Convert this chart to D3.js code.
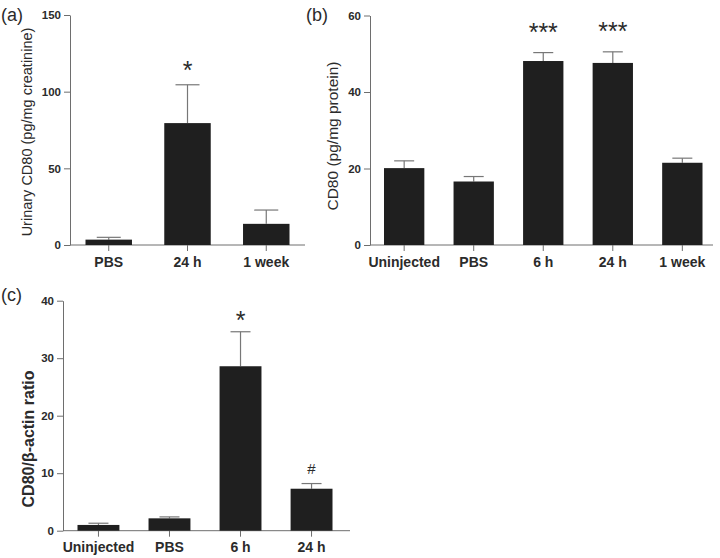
<!DOCTYPE html>
<html>
<head>
<meta charset="utf-8">
<script src="https://cdn.jsdelivr.net/npm/d3@7"></script>
<style>
  body { margin: 0; background: #fff; }
  text { font-family: "Liberation Sans", Arial, sans-serif; fill: #2b2b2b; }
</style>
</head>
<body>
<script>
// panel (a) - urinary CD80
var catsA = ["PBS", "24 h", "1 week"];
var meanA = [3.5, 79.5, 13.8];
var errA = [5.0, 104.5, 22.8];
var marksA = ["", "*", ""];
var ticksA = [0, 50, 100, 150];

// panel (b) - CD80 protein
var catsB = ["Uninjected", "PBS", "6 h", "24 h", "1 week"];
var meanB = [20.1, 16.6, 48.1, 47.6, 21.5];
var errB = [22.0, 17.9, 50.3, 50.5, 22.7];
var marksB = ["", "", "***", "***", ""];
var ticksB = [0, 20, 40, 60];

// panel (c) - CD80 / beta-actin
var catsC = ["Uninjected", "PBS", "6 h", "24 h"];
var meanC = [1.0, 2.15, 28.6, 7.3];
var errC = [1.3, 2.4, 34.6, 8.2];
var marksC = ["", "", "*", "#"];
var ticksC = [0, 10, 20, 30, 40];

var svg = d3.select("body").append("svg")
  .attr("width", 720)
  .attr("height", 558);

var axisColor = "#6e6e6e";

function panel(opt) {
  var g = svg.append("g");

  var y = d3.scaleLinear().domain([0, opt.ymax]).range([opt.y0, opt.y1]);
  var x = d3.scaleBand().domain(opt.cats)
    .range([opt.x0 + opt.pad, opt.x1 - opt.padR]).paddingInner(opt.inner).paddingOuter(0);

  // y axis
  var ya = g.append("g")
    .attr("transform", "translate(" + opt.x0 + ",0)")
    .call(d3.axisLeft(y).tickValues(opt.ticks).tickSize(6).tickSizeOuter(0));
  ya.select(".domain").attr("stroke", axisColor);
  ya.selectAll(".tick line").attr("stroke", axisColor);
  ya.selectAll(".tick text").attr("font-size", 11.5).attr("font-weight", "bold")
    .attr("fill", "#2b2b2b").attr("x", -9);

  // x axis
  var xa = g.append("g")
    .attr("transform", "translate(0," + opt.y0 + ")");
  xa.append("line")
    .attr("x1", opt.x0).attr("x2", opt.x1)
    .attr("stroke", axisColor);
  xa.selectAll(".xt").data(opt.cats).enter().append("line")
    .attr("x1", function(d) { return x(d) + x.bandwidth() / 2; })
    .attr("x2", function(d) { return x(d) + x.bandwidth() / 2; })
    .attr("y1", 0).attr("y2", 6)
    .attr("stroke", axisColor);
  xa.selectAll(".xl").data(opt.cats).enter().append("text")
    .attr("x", function(d) { return x(d) + x.bandwidth() / 2; })
    .attr("y", 21.5)
    .attr("text-anchor", "middle")
    .attr("font-size", 14)
    .attr("font-weight", "bold")
    .text(function(d) { return d; });

  // error bars
  var eb = g.selectAll(".err").data(opt.cats).enter().append("g");
  eb.append("line")
    .attr("x1", function(d) { return x(d) + x.bandwidth() / 2; })
    .attr("x2", function(d) { return x(d) + x.bandwidth() / 2; })
    .attr("y1", function(d, i) { return y(opt.mean[i]); })
    .attr("y2", function(d, i) { return y(opt.err[i]); })
    .attr("stroke", "#777").attr("stroke-width", 1.2);
  eb.append("line")
    .attr("x1", function(d) { return x(d) + x.bandwidth() / 2 - opt.cap; })
    .attr("x2", function(d) { return x(d) + x.bandwidth() / 2 + opt.cap; })
    .attr("y1", function(d, i) { return y(opt.err[i]); })
    .attr("y2", function(d, i) { return y(opt.err[i]); })
    .attr("stroke", "#777").attr("stroke-width", 1.2);

  // bars
  g.selectAll(".bar").data(opt.cats).enter().append("rect")
    .attr("x", function(d) { return x(d); })
    .attr("width", x.bandwidth())
    .attr("y", function(d, i) { return y(opt.mean[i]); })
    .attr("height", function(d, i) { return opt.y0 - y(opt.mean[i]); })
    .attr("fill", "#1f1f1f");

  // significance marks
  g.selectAll(".mk").data(opt.cats).enter().append("text")
    .attr("x", function(d) { return x(d) + x.bandwidth() / 2; })
    .attr("y", function(d, i) {
      var m = opt.marks[i];
      return y(opt.err[i]) - (m === "#" ? 10 : opt.starGap);
    })
    .attr("text-anchor", "middle")
    .attr("font-size", function(d, i) { return opt.marks[i] === "#" ? 15 : 25; })
    .attr("fill", "#444")
    .attr("dy", function(d, i) { return opt.marks[i] === "#" ? 0 : 9; })
    .text(function(d, i) { return opt.marks[i]; });

  // y title
  g.append("text")
    .attr("transform", "translate(" + opt.tx + "," + opt.ty + ") rotate(-90)")
    .attr("text-anchor", "middle")
    .attr("font-size", opt.titleSize)
    .attr("font-weight", opt.titleBold ? "bold" : "normal")
    .text(opt.title);

  // panel letter
  g.append("text")
    .attr("x", opt.lx).attr("y", opt.ly)
    .attr("font-size", 18)
    .text(opt.letter);
}

panel({
  cats: catsA, mean: meanA, err: errA, marks: marksA, ticks: ticksA, ymax: 150,
  x0: 70, x1: 305, y0: 245, y1: 15, pad: 15.5, padR: 15.5, inner: 0.41, cap: 12, starGap: 15,
  title: "Urinary CD80 (pg/mg creatinine)", tx: 32, ty: 132, titleBold: false, titleSize: 14.5,
  letter: "(a)", lx: 1, ly: 21
});

panel({
  cats: catsB, mean: meanB, err: errB, marks: marksB, ticks: ticksB, ymax: 60,
  x0: 370, x1: 713, y0: 245, y1: 15.5, pad: 14, padR: 10.5, inner: 0.42, cap: 10, starGap: 21,
  title: "CD80 (pg/mg protein)", tx: 338, ty: 136, titleBold: false, titleSize: 15.5,
  letter: "(b)", lx: 306, ly: 21
});

panel({
  cats: catsC, mean: meanC, err: errC, marks: marksC, ticks: ticksC, ymax: 40,
  x0: 63, x1: 350, y0: 530.7, y1: 300.7, pad: 14.5, padR: 17.5, inner: 0.41, cap: 10, starGap: 12,
  title: "CD80/β-actin ratio", tx: 34, ty: 439, titleBold: true, titleSize: 16,
  letter: "(c)", lx: 1, ly: 301
});
</script>
</body>
</html>
